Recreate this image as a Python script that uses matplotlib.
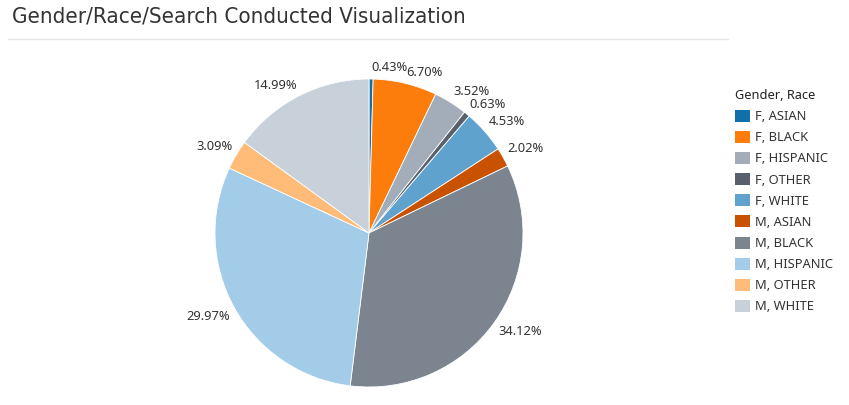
import numpy as np
import matplotlib
matplotlib.use('Agg')
import matplotlib.pyplot as plt
from matplotlib.patches import Patch

# data
categories = ['F, ASIAN', 'F, BLACK', 'F, HISPANIC', 'F, OTHER', 'F, WHITE',
              'M, ASIAN', 'M, BLACK', 'M, HISPANIC', 'M, OTHER', 'M, WHITE']
shares = [0.43, 6.70, 3.52, 0.63, 4.53, 2.02, 34.12, 29.97, 3.09, 14.99]
colors = ['#1170aa', '#fc7d0b', '#a3acb9', '#57606c', '#5fa2ce',
          '#c85200', '#7b848f', '#a3cce9', '#ffbc79', '#c8d0d9']

plt.rcParams['font.family'] = ['Noto Sans', 'DejaVu Sans']

W, H = 849, 405
fig = plt.figure(figsize=(W / 100, H / 100), dpi=100)

# pie centre and radius in pixels
cx, cy, r = 369, 233, 154
ax = fig.add_axes([(cx - r) / W, (H - cy - r) / H, 2 * r / W, 2 * r / H])
wedges, _ = ax.pie(shares, colors=colors, startangle=90, counterclock=False,
                   wedgeprops=dict(linewidth=0.6, edgecolor='white'))
ax.set_xlim(-1, 1)
ax.set_ylim(-1, 1)
ax.axis('off')

# labels: nearest corner of the text box sits just outside the rim
for w, v in zip(wedges, shares):
    ang = np.deg2rad((w.theta1 + w.theta2) / 2)
    x, y = 1.03 * np.cos(ang), 1.03 * np.sin(ang)
    ax.text(x, y, f'{v:.2f}%', fontsize=9.3, color='#333333',
            ha='left' if x >= 0 else 'right',
            va='bottom' if y >= 0 else 'top')

# title and divider
fig.text(12 / W, 1 - 17 / H, 'Gender/Race/Search Conducted Visualization',
         fontsize=16, color='#333333', va='center', ha='left',
         fontstretch='condensed', family=['DejaVu Sans'])
fig.add_artist(plt.Line2D([8 / W, 728 / W], [1 - 39 / H, 1 - 39 / H],
                          color='#e6e6e6', linewidth=1))

# legend
handles = [Patch(facecolor=c, edgecolor='none') for c in colors]
leg = fig.legend(handles, categories, title='Gender, Race',
                 loc='upper left', bbox_to_anchor=(735 / W, 1 - 89 / H),
                 frameon=False, fontsize=9.3, title_fontsize=9.2,
                 handlelength=1.15, handleheight=1.05, handletextpad=0.4,
                 labelspacing=0.6, borderaxespad=0, borderpad=0)
leg._legend_box.align = 'left'
for t in leg.get_texts():
    t.set_color('#333333')
leg.get_title().set_color('#222222')

fig.savefig('out.png', dpi=100)
